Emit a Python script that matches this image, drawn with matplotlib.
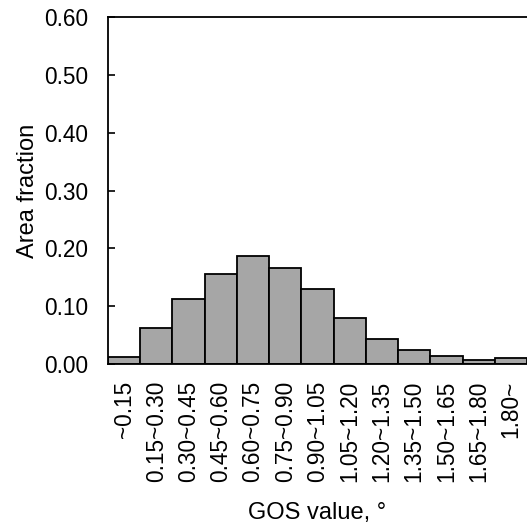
import matplotlib
matplotlib.use('Agg')
import matplotlib.pyplot as plt

# GOS distribution (area fraction per bin)
bins = ["~0.15", "0.15~0.30", "0.30~0.45", "0.45~0.60", "0.60~0.75",
        "0.75~0.90", "0.90~1.05", "1.05~1.20", "1.20~1.35", "1.35~1.50",
        "1.50~1.65", "1.65~1.80", "1.80~"]
fractions = [0.012, 0.062, 0.113, 0.156, 0.186, 0.166, 0.130,
             0.080, 0.044, 0.024, 0.014, 0.007, 0.011]
yticks = [0.0, 0.1, 0.2, 0.3, 0.4, 0.5, 0.6]

plt.rcParams['font.family'] = ['Liberation Sans', 'DejaVu Sans']
plt.rcParams['font.size'] = 16.3

fig = plt.figure(figsize=(5.27, 5.27), dpi=100)
ax = fig.add_axes([0.205, 0.309, 0.795, 0.659])

x = list(range(len(bins)))
ax.bar(x, fractions, width=1.0, color="#a6a6a6", edgecolor="black", linewidth=1.3)

ax.set_xlim(-0.5, len(bins) - 0.5)
ax.set_ylim(0, 0.6)
ax.set_yticks(yticks)
ax.set_yticklabels([f"{v:.2f}" for v in yticks])
ax.set_xticks(x)
ax.set_xticklabels(bins, rotation=90)
ax.tick_params(axis='x', length=0, pad=12)
ax.tick_params(axis='y', direction='in', length=5, width=1.2, pad=14)

for side in ['left', 'top', 'bottom']:
    ax.spines[side].set_linewidth(1.3)
ax.spines['right'].set_visible(False)

ax.set_ylabel("Area fraction", fontsize=17, labelpad=4)
ax.set_xlabel("GOS value, °", fontsize=17, labelpad=14)

plt.savefig("out.png", dpi=100)
